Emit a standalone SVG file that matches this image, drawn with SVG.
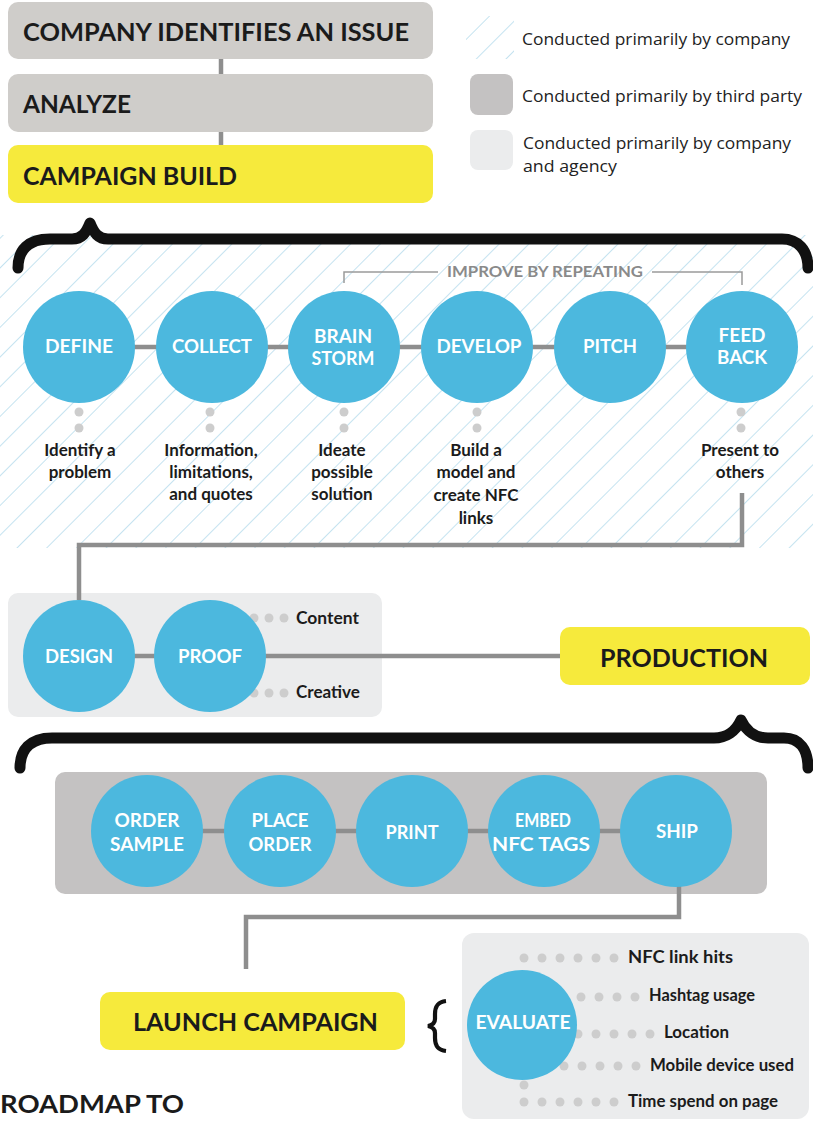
<svg xmlns="http://www.w3.org/2000/svg" width="813" height="1121" viewBox="0 0 813 1121">
  <style>
    .stage{fill:#cfcdca}
    .hl{fill:#f6ea3c}
    .third{fill:#c4c2c2}
    .agency{fill:#ebeced}
    .h{font-family:Lato,"Liberation Sans",sans-serif;font-weight:700;fill:#1b1b1b;font-size:25px}
    .step{fill:#4cb8de}
    .sl{font-family:Lato,"Liberation Sans",sans-serif;font-weight:700;fill:#ffffff;font-size:18px;text-anchor:middle}
    .note{font-family:Lato,"Liberation Sans",sans-serif;font-weight:700;fill:#1b1b1b;font-size:17px;text-anchor:middle}
    .item{font-family:Lato,"Liberation Sans",sans-serif;font-weight:700;fill:#1b1b1b;font-size:16.5px}
    .lg{font-family:"Open Sans","Liberation Sans",sans-serif;font-size:16.5px;fill:#222222}
    .wire{stroke:#8e8e8e;stroke-width:4.5;fill:none}
    .thin{stroke:#9a9a9a;stroke-width:1.5;fill:none}
    .brace{stroke:#111111;stroke-width:11;fill:none;stroke-linecap:round;stroke-linejoin:round}
    .dot{fill:#cdcdcd}
    .loop{font-family:Lato,"Liberation Sans",sans-serif;font-weight:700;fill:#8a8a8a;font-size:15px;text-anchor:middle}
  </style>
  <defs>
    <pattern id="hatch" patternUnits="userSpaceOnUse" width="21" height="21" patternTransform="rotate(45)">
      <line x1="0" y1="0" x2="0" y2="21" stroke="#bfe0ef" stroke-width="1.8"/>
    </pattern>
  </defs>

  <!-- company-led background band -->
  <rect x="0" y="235" width="813" height="313" fill="url(#hatch)"/>

  <!-- legend -->
  <g id="legend">
    <rect x="466" y="16" width="48" height="43" fill="url(#hatch)"/>
    <text class="lg" x="522" y="45" textLength="268" lengthAdjust="spacingAndGlyphs">Conducted primarily by company</text>
    <rect class="third" x="470" y="74" width="43" height="41" rx="8"/>
    <text class="lg" x="522" y="102" textLength="280" lengthAdjust="spacingAndGlyphs">Conducted primarily by third party</text>
    <rect class="agency" x="470" y="130" width="43" height="40" rx="8"/>
    <text class="lg" x="523" y="149" textLength="268" lengthAdjust="spacingAndGlyphs">Conducted primarily by company</text>
    <text class="lg" x="523" y="172" textLength="94" lengthAdjust="spacingAndGlyphs">and agency</text>
  </g>

  <!-- panels -->
  <rect id="agency-panel" class="agency" x="8" y="593" width="374" height="124" rx="10"/>
  <rect id="third-party-panel" class="third" x="55" y="772" width="712" height="122" rx="10"/>
  <rect id="evaluate-panel" class="agency" x="462" y="933" width="347" height="186" rx="12"/>

  <!-- braces -->
  <g id="braces">
    <path class="brace" d="M18,268 C18,250 28,239 50,239 L72,239 C82,239 86,233 90,223 C94,233 98,239 108,239 L782,239 C798,239 808,250 808,268"/>
    <path class="brace" d="M20,768 C20,750 30,738 52,738 L714,738 C726,738 736,731 741,720 C746,731 756,738 768,738 L784,738 C800,738 808,750 808,768"/>
    <path d="M446,1001 C437,1002 435,1007 435,1014 L435,1019 C435,1023 433,1025 428,1026 C433,1027 435,1029 435,1033 L435,1038 C435,1045 437,1050 446,1051" stroke="#111111" stroke-width="4.2" fill="none"/>
  </g>

  <!-- connectors -->
  <g id="connectors">
    <line class="wire" x1="221" y1="59" x2="221" y2="74"/>
    <line class="wire" x1="221" y1="131" x2="221" y2="145"/>
    <line class="wire" x1="79" y1="347" x2="742" y2="347"/>
    <path class="thin" d="M344,283 L344,272 L438,272 M652,272 L742,272 L742,285"/>
    <path class="wire" d="M742,493 L742,545 L79,545 L79,600"/>
    <line class="wire" x1="79" y1="656" x2="560" y2="656"/>
    <line class="wire" x1="147" y1="831" x2="676" y2="831"/>
    <path class="wire" d="M679,880 L679,917 L246,917 L246,969"/>
  </g>

  <!-- header stages -->
  <g id="stage-issue">
    <rect class="stage" x="8" y="2" width="425" height="57" rx="10"/>
    <text class="h" x="23" y="41" textLength="386" lengthAdjust="spacingAndGlyphs">COMPANY IDENTIFIES AN ISSUE</text>
  </g>
  <g id="stage-analyze">
    <rect class="stage" x="8" y="74" width="425" height="58" rx="10"/>
    <text class="h" x="23" y="113" textLength="108" lengthAdjust="spacingAndGlyphs">ANALYZE</text>
  </g>
  <g id="stage-build">
    <rect class="hl" x="8" y="145" width="425" height="58" rx="10"/>
    <text class="h" x="23" y="185" textLength="214" lengthAdjust="spacingAndGlyphs">CAMPAIGN BUILD</text>
  </g>

  <text id="loop-label" class="loop" x="545" y="277" textLength="196" lengthAdjust="spacingAndGlyphs">IMPROVE BY REPEATING</text>

  <!-- build steps -->
  <g id="step-define">
    <circle class="step" cx="79" cy="347" r="56"/>
    <text class="sl" x="79" y="353" textLength="68" lengthAdjust="spacingAndGlyphs">DEFINE</text>
    <circle class="dot" cx="79" cy="412" r="4.5"/><circle class="dot" cx="79" cy="428" r="4.5"/>
    <text class="note" x="80" y="456">Identify a</text>
    <text class="note" x="80" y="478">problem</text>
  </g>
  <g id="step-collect">
    <circle class="step" cx="212" cy="347" r="56"/>
    <text class="sl" x="212" y="353" textLength="80" lengthAdjust="spacingAndGlyphs">COLLECT</text>
    <circle class="dot" cx="210" cy="412" r="4.5"/><circle class="dot" cx="210" cy="428" r="4.5"/>
    <text class="note" x="211" y="456">Information,</text>
    <text class="note" x="211" y="478">limitations,</text>
    <text class="note" x="211" y="500">and quotes</text>
  </g>
  <g id="step-brainstorm">
    <circle class="step" cx="344" cy="347" r="56"/>
    <text class="sl" x="343" y="343" textLength="58" lengthAdjust="spacingAndGlyphs">BRAIN</text>
    <text class="sl" x="343" y="365" textLength="63" lengthAdjust="spacingAndGlyphs">STORM</text>
    <circle class="dot" cx="344" cy="412" r="4.5"/><circle class="dot" cx="344" cy="428" r="4.5"/>
    <text class="note" x="342" y="456">Ideate</text>
    <text class="note" x="342" y="478">possible</text>
    <text class="note" x="342" y="500">solution</text>
  </g>
  <g id="step-develop">
    <circle class="step" cx="477" cy="347" r="56"/>
    <text class="sl" x="479" y="353" textLength="85" lengthAdjust="spacingAndGlyphs">DEVELOP</text>
    <circle class="dot" cx="477" cy="412" r="4.5"/><circle class="dot" cx="477" cy="428" r="4.5"/>
    <text class="note" x="476" y="456">Build a</text>
    <text class="note" x="476" y="478">model and</text>
    <text class="note" x="476" y="501">create NFC</text>
    <text class="note" x="476" y="524">links</text>
  </g>
  <g id="step-pitch">
    <circle class="step" cx="610" cy="347" r="56"/>
    <text class="sl" x="610" y="353" textLength="54" lengthAdjust="spacingAndGlyphs">PITCH</text>
  </g>
  <g id="step-feedback">
    <circle class="step" cx="742" cy="347" r="56"/>
    <text class="sl" x="742" y="342" textLength="47" lengthAdjust="spacingAndGlyphs">FEED</text>
    <text class="sl" x="742" y="364" textLength="50" lengthAdjust="spacingAndGlyphs">BACK</text>
    <circle class="dot" cx="741" cy="412" r="4.5"/><circle class="dot" cx="741" cy="428" r="4.5"/>
    <text class="note" x="740" y="456">Present to</text>
    <text class="note" x="740" y="478">others</text>
  </g>

  <!-- design and proof -->
  <g id="step-design">
    <circle class="step" cx="79" cy="656" r="56"/>
    <text class="sl" x="79" y="663" textLength="68" lengthAdjust="spacingAndGlyphs">DESIGN</text>
  </g>
  <g id="step-proof">
    <circle class="dot" cx="254" cy="618" r="4.5"/><circle class="dot" cx="269" cy="618" r="4.5"/><circle class="dot" cx="284" cy="618" r="4.5"/>
    <circle class="dot" cx="254" cy="693" r="4.5"/><circle class="dot" cx="269" cy="693" r="4.5"/><circle class="dot" cx="284" cy="693" r="4.5"/>
    <circle class="step" cx="210" cy="656" r="56"/>
    <text class="sl" x="210" y="663" textLength="64" lengthAdjust="spacingAndGlyphs">PROOF</text>
    <text class="item" x="296" y="624" textLength="63" lengthAdjust="spacingAndGlyphs">Content</text>
    <text class="item" x="296" y="698" textLength="64" lengthAdjust="spacingAndGlyphs">Creative</text>
  </g>

  <g id="stage-production">
    <rect class="hl" x="560" y="627" width="250" height="58" rx="10"/>
    <text class="h" x="600" y="667" textLength="168" lengthAdjust="spacingAndGlyphs">PRODUCTION</text>
  </g>

  <!-- production steps -->
  <g id="step-order-sample">
    <circle class="step" cx="147" cy="831" r="56"/>
    <text class="sl" x="147" y="827" textLength="65" lengthAdjust="spacingAndGlyphs">ORDER</text>
    <text class="sl" x="147" y="851" textLength="74" lengthAdjust="spacingAndGlyphs">SAMPLE</text>
  </g>
  <g id="step-place-order">
    <circle class="step" cx="280" cy="831" r="56"/>
    <text class="sl" x="280" y="827" textLength="57" lengthAdjust="spacingAndGlyphs">PLACE</text>
    <text class="sl" x="280" y="851" textLength="63" lengthAdjust="spacingAndGlyphs">ORDER</text>
  </g>
  <g id="step-print">
    <circle class="step" cx="412" cy="831" r="56"/>
    <text class="sl" x="412" y="839" textLength="53" lengthAdjust="spacingAndGlyphs">PRINT</text>
  </g>
  <g id="step-embed">
    <circle class="step" cx="544" cy="831" r="56"/>
    <text class="sl" x="543" y="827" textLength="56" lengthAdjust="spacingAndGlyphs">EMBED</text>
    <text class="sl" x="541" y="851" textLength="98" lengthAdjust="spacingAndGlyphs">NFC TAGS</text>
  </g>
  <g id="step-ship">
    <circle class="step" cx="676" cy="831" r="56"/>
    <text class="sl" x="677" y="838" textLength="42" lengthAdjust="spacingAndGlyphs">SHIP</text>
  </g>

  <g id="stage-launch">
    <rect class="hl" x="100" y="992" width="305" height="58" rx="10"/>
    <text class="h" x="133" y="1031" textLength="245" lengthAdjust="spacingAndGlyphs">LAUNCH CAMPAIGN</text>
  </g>

  <!-- evaluation -->
  <g id="step-evaluate">
    <g id="metric-dots">
      <circle class="dot" cx="524" cy="958" r="4.5"/><circle class="dot" cx="542" cy="958" r="4.5"/><circle class="dot" cx="560" cy="958" r="4.5"/><circle class="dot" cx="578" cy="958" r="4.5"/><circle class="dot" cx="596" cy="958" r="4.5"/><circle class="dot" cx="614" cy="958" r="4.5"/>
      <circle class="dot" cx="563" cy="997" r="4.5"/><circle class="dot" cx="581" cy="997" r="4.5"/><circle class="dot" cx="599" cy="997" r="4.5"/><circle class="dot" cx="617" cy="997" r="4.5"/><circle class="dot" cx="635" cy="997" r="4.5"/>
      <circle class="dot" cx="578" cy="1034" r="4.5"/><circle class="dot" cx="596" cy="1034" r="4.5"/><circle class="dot" cx="614" cy="1034" r="4.5"/><circle class="dot" cx="632" cy="1034" r="4.5"/><circle class="dot" cx="650" cy="1034" r="4.5"/>
      <circle class="dot" cx="564" cy="1066" r="4.5"/><circle class="dot" cx="582" cy="1066" r="4.5"/><circle class="dot" cx="600" cy="1066" r="4.5"/><circle class="dot" cx="618" cy="1066" r="4.5"/><circle class="dot" cx="636" cy="1066" r="4.5"/>
      <circle class="dot" cx="524" cy="1102" r="4.5"/><circle class="dot" cx="542" cy="1102" r="4.5"/><circle class="dot" cx="560" cy="1102" r="4.5"/><circle class="dot" cx="578" cy="1102" r="4.5"/><circle class="dot" cx="596" cy="1102" r="4.5"/><circle class="dot" cx="614" cy="1102" r="4.5"/>
      <circle class="dot" cx="524" cy="976" r="4.5"/><circle class="dot" cx="524" cy="1085" r="4.5"/>
    </g>
    <circle class="step" cx="522" cy="1025" r="55"/>
    <text class="sl" x="523" y="1029" textLength="95" lengthAdjust="spacingAndGlyphs">EVALUATE</text>
    <text class="item" x="628" y="963" textLength="105" lengthAdjust="spacingAndGlyphs">NFC link hits</text>
    <text class="item" x="649" y="1001" textLength="106" lengthAdjust="spacingAndGlyphs">Hashtag usage</text>
    <text class="item" x="664" y="1038" textLength="65" lengthAdjust="spacingAndGlyphs">Location</text>
    <text class="item" x="650" y="1071" textLength="144" lengthAdjust="spacingAndGlyphs">Mobile device used</text>
    <text class="item" x="628" y="1107" textLength="150" lengthAdjust="spacingAndGlyphs">Time spend on page</text>
  </g>

  <text id="title" class="h" x="0" y="1113" font-size="26" textLength="184" lengthAdjust="spacingAndGlyphs">ROADMAP TO</text>
</svg>
